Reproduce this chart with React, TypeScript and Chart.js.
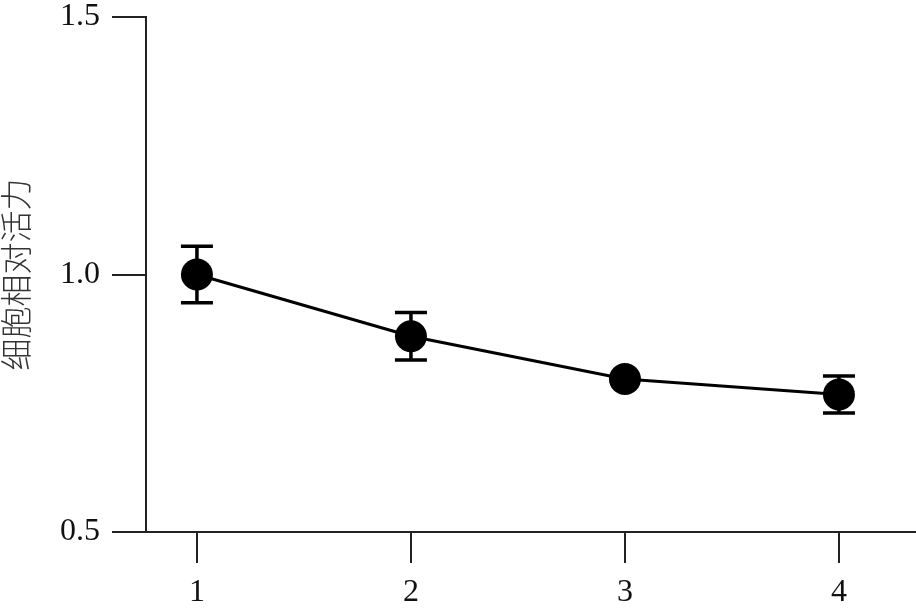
import React, { useEffect, useRef } from "react";
import { Chart, registerables } from "chart.js";

Chart.register(...registerables);

const categories = [1, 2, 3, 4];
const values = [1.0, 0.88, 0.797, 0.767];
const errors = [0.055, 0.046, 0.0, 0.036];
const yTicks = [0.5, 1.0, 1.5];
const yTitle = "细胞相对活力";

const errorBarPlugin = {
  id: "errorBars",
  beforeDatasetsDraw(chart: any) {
    const { ctx, scales } = chart;
    const xs = scales.x;
    const ys = scales.y;
    ctx.save();
    ctx.strokeStyle = "#000";
    ctx.lineWidth = 3.5;
    categories.forEach((c, i) => {
      if (!errors[i]) return;
      const x = xs.getPixelForValue(c);
      const yt = ys.getPixelForValue(values[i] + errors[i]);
      const yb = ys.getPixelForValue(values[i] - errors[i]);
      const hw = 16;
      ctx.beginPath();
      ctx.moveTo(x, yt);
      ctx.lineTo(x, yb);
      ctx.moveTo(x - hw, yt);
      ctx.lineTo(x + hw, yt);
      ctx.moveTo(x - hw, yb);
      ctx.lineTo(x + hw, yb);
      ctx.stroke();
    });
    ctx.restore();
  },
};

const zeroPad = (s: any) => {
  s.paddingTop = 0;
  s.paddingBottom = 0;
  s.paddingLeft = 0;
  s.paddingRight = 0;
};

export default function App() {
  const ref = useRef<HTMLCanvasElement | null>(null);
  useEffect(() => {
    if (!ref.current) return;
    document.body.style.margin = "0";
    document.body.style.overflow = "hidden";
    const chart = new Chart(ref.current, {
      type: "line",
      data: {
        datasets: [
          {
            data: categories.map((c, i) => ({ x: c, y: values[i] })),
            borderColor: "#000",
            borderWidth: 3,
            pointRadius: 16,
            pointBackgroundColor: "#000",
            pointBorderColor: "#000",
            pointBorderWidth: 0,
            tension: 0,
            clip: false,
          },
        ],
      },
      plugins: [errorBarPlugin],
      options: {
        responsive: false,
        animation: false,
        events: [],
        layout: { autoPadding: false, padding: { top: 17, left: 0, right: 0, bottom: 0 } },
        plugins: { legend: { display: false }, tooltip: { enabled: false } },
        scales: {
          x: {
            type: "linear",
            min: 0.762,
            max: 4.36,
            afterBuildTicks: (s: any) => {
              s.ticks = categories.map((v) => ({ value: v }));
            },
            afterFit: (s: any) => {
              s.height = 77;
              zeroPad(s);
            },
            ticks: {
              color: "#111",
              font: { family: "'Liberation Serif', serif", size: 32 },
              padding: 10,
              maxRotation: 0,
              autoSkip: false,
              callback: (v: any) => String(v),
            },
            grid: {
              display: true,
              drawOnChartArea: false,
              drawTicks: true,
              tickLength: 31,
              color: "#222",
              lineWidth: 2,
            },
            border: { display: true, color: "#222", width: 2 },
          },
          y: {
            type: "linear",
            min: 0.5,
            max: 1.5,
            afterBuildTicks: (s: any) => {
              s.ticks = yTicks.map((v) => ({ value: v }));
            },
            afterFit: (s: any) => {
              s.width = 146;
              zeroPad(s);
            },
            ticks: {
              color: "#111",
              font: { family: "'Liberation Serif', serif", size: 32 },
              padding: 12,
              callback: (v: any) => Number(v).toFixed(1),
            },
            grid: {
              display: true,
              drawOnChartArea: false,
              drawTicks: true,
              tickLength: 34,
              color: "#222",
              lineWidth: 2,
            },
            border: { display: true, color: "#222", width: 2 },
            title: {
              display: true,
              text: yTitle,
              color: "#333",
              font: { family: "'Noto Sans CJK SC', sans-serif", size: 32, lineHeight: 1.0, weight: "300" as any },
              padding: { top: 0, bottom: 0 },
            },
          },
        },
      } as any,
    });
    return () => chart.destroy();
  }, []);
  return (
    <div style={{ position: "absolute", left: 0, top: 0, width: 916, height: 609, overflow: "hidden", background: "#fff" }}>
      <canvas ref={ref} width={916} height={609} style={{ display: "block", width: 916, height: 609 }} />
    </div>
  );
}
